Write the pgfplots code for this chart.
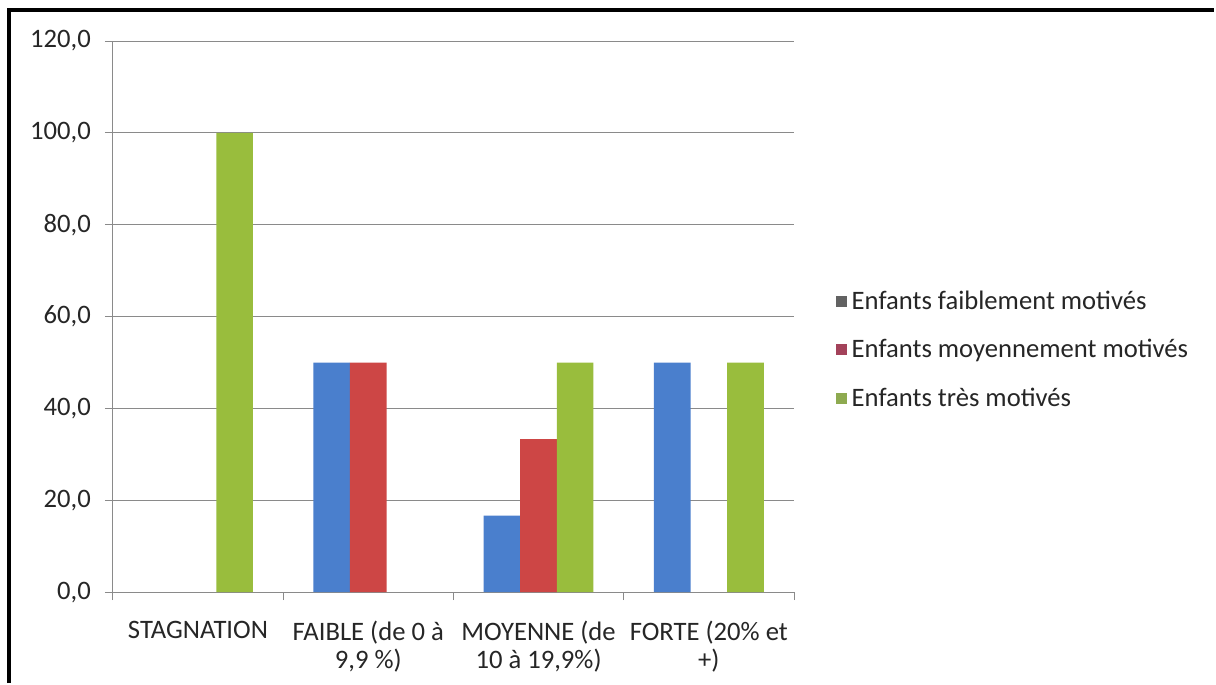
\documentclass[border=0pt]{standalone}
\usepackage{fontspec}
\setmainfont{Carlito}
\usepackage{pgfplots}
\pgfplotsset{compat=1.18}
\definecolor{barBlue}{HTML}{4A7FCD}
\definecolor{barRed}{HTML}{CD4645}
\definecolor{barGreen}{HTML}{99BD3D}
\definecolor{legGray}{HTML}{626262}
\definecolor{legRed}{HTML}{A3425A}
\definecolor{legGreen}{HTML}{8EAA50}
\definecolor{gridGray}{HTML}{8A8A8A}
\begin{document}
\begin{tikzpicture}
\fill[white] (0,0) rectangle (912pt,513pt);
\draw[line width=2.4pt] (6.75pt,0) -- (6.75pt,505.5pt) -- (912pt,505.5pt);
\begin{axis}[
  at={(84.75pt,68.25pt)}, anchor=south west,
  scale only axis, width=511.5pt, height=414pt,
  bar width=27.5pt,
  xmin=-0.5, xmax=3.5, ymin=0, ymax=120,
  ytick={0,20,...,120},
  /pgf/number format/assume math mode=true,
  yticklabel style={/pgf/number format/.cd, fixed, fixed zerofill, precision=1, use comma, /tikz/.cd, xshift=-7pt},
  ticklabel style={font=\fontsize{20}{21.5}\selectfont, text=black!85},
  axis lines*=left,
  axis line style={gridGray, line width=0.6pt},
  ymajorgrids, grid style={gridGray, line width=0.6pt},
  tick align=outside,
  y tick style={gridGray, line width=0.6pt},
  major tick length=6pt,
  xtick={0,1,2,3},
  xticklabels={STAGNATION, {FAIBLE (de 0 à\\9,9 \%)}, {MOYENNE (de\\10 à 19,9\%)}, {FORTE (20\% et\\+)}},
  x tick label style={align=center, anchor=north, yshift=-12pt},
  x tick style={draw=none},
  extra x ticks={-0.5,0.5,1.5,2.5,3.5},
  extra x tick labels={},
  extra x tick style={x tick style={draw=gridGray, line width=0.6pt}},
  legend style={at={(1.055,0.44)}, anchor=west, draw=none, fill=none,
    font=\fontsize{20}{22}\selectfont, row sep=17pt, cells={anchor=west},
    text=black!85, nodes={inner xsep=4pt}},
]
\addplot[ybar, bar shift=-27.5pt, fill=barBlue, draw=none, forget plot] coordinates {(1,50) (2,16.7) (3,50)};
\addplot[ybar, bar shift=0pt, fill=barRed, draw=none, forget plot] coordinates {(1,50) (2,33.3)};
\addplot[ybar, bar shift=27.5pt, fill=barGreen, draw=none, forget plot] coordinates {(0,100) (2,50) (3,50)};
\addlegendimage{legend image code/.code={\fill[legGray] (0pt,-3.8pt) rectangle (7.6pt,3.8pt);}}
\addlegendentry{Enfants faiblement motivés}
\addlegendimage{legend image code/.code={\fill[legRed] (0pt,-3.8pt) rectangle (7.6pt,3.8pt);}}
\addlegendentry{Enfants moyennement motivés}
\addlegendimage{legend image code/.code={\fill[legGreen] (0pt,-3.8pt) rectangle (7.6pt,3.8pt);}}
\addlegendentry{Enfants très motivés}
\end{axis}
\end{tikzpicture}
\end{document}
